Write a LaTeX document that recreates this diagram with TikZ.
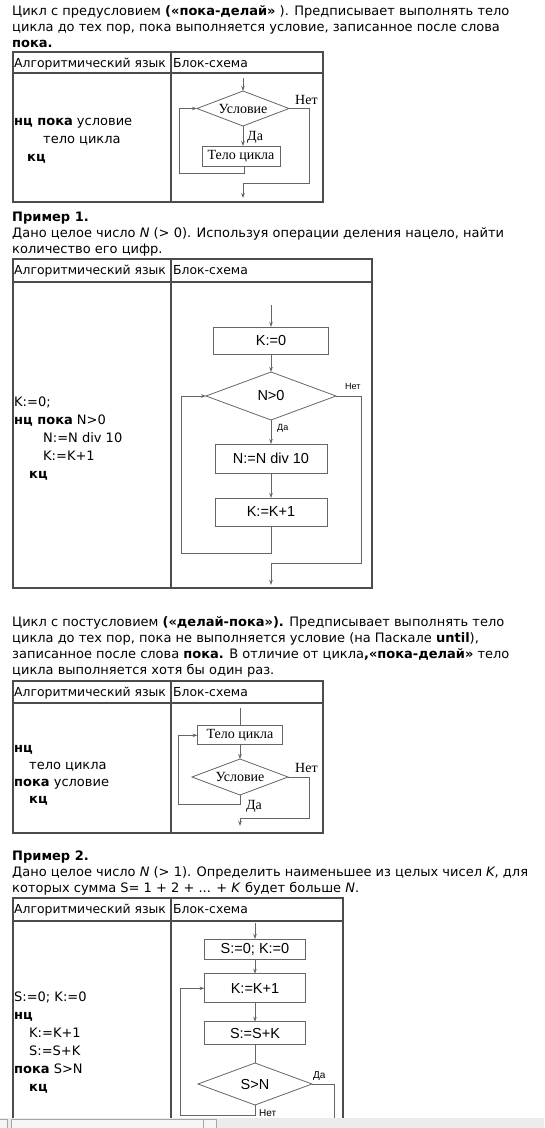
\documentclass[tikz,border=0pt]{standalone}
\usepackage{fontspec}
\setmainfont{DejaVu Sans}
\newfontfamily\serifA{Liberation Serif}
\newfontfamily\arialA{Liberation Sans}
\usetikzlibrary{arrows.meta,shapes.geometric}
\begin{document}
\begin{tikzpicture}[x=1pt,y=-1pt,
 txt/.style={anchor=base west,inner sep=0pt,font=\fontsize{13}{16}\selectfont},
 hdr/.style={anchor=base west,inner sep=0pt,font=\fontsize{12.4}{16}\selectfont},
 tb/.style={draw=black!70,line width=1.5pt},
 fl/.style={draw=black!60,line width=0.8pt},
 arr/.style={fl,-{Stealth[length=5pt,width=3.5pt]}},
 sbox/.style={draw=black!60,line width=0.8pt,rectangle,inner sep=0pt,outer sep=0pt,font=\serifA\fontsize{14}{14}\selectfont},
 sdia/.style={draw=black!60,line width=0.8pt,diamond,shape aspect=2.65,inner sep=0pt,outer sep=0pt,font=\serifA\fontsize{14}{14}\selectfont},
 slab/.style={anchor=base west,inner sep=0pt,font=\serifA\fontsize{14}{14}\selectfont},
 abox/.style={draw=black!60,line width=0.8pt,rectangle,inner sep=0pt,outer sep=0pt,font=\arialA\fontsize{14.5}{14}\selectfont},
 adia/.style={draw=black!60,line width=0.8pt,diamond,shape aspect=2.7,inner sep=0pt,outer sep=0pt,font=\arialA\fontsize{14.5}{14}\selectfont},
 alab/.style={anchor=base west,inner sep=0pt,font=\arialA\fontsize{9}{9}\selectfont},
 blab/.style={anchor=base west,inner sep=0pt,font=\arialA\fontsize{10}{10}\selectfont},
]
\useasboundingbox (0,0) rectangle (544,1128);
\fill[white] (0,0) rectangle (544,1128);

% ---------- paragraph 1
\node[txt] (p1a) at (12,15) {Цикл с предусловием \textbf{(«пока-делай»} ). Предписывает выполнять тело};
\node[txt] (p1b) at (12,31) {цикла до тех пор, пока выполняется условие, записанное после слова};
\node[txt] (p1c) at (12,47) {\textbf{пока.}};

% ---------- table 1
\draw[tb] (13,52) rectangle (323,202);
\draw[tb] (13,73) -- (323,73);
\draw[tb] (171,52) -- (171,202);
\node[hdr] (h1a) at (14,67.5) {Алгоритмический язык};
\node[hdr] (h1b) at (173,67.5) {Блок-схема};
\node[txt] (l1a) at (14,125) {\textbf{нц пока} условие};
\node[txt] (l1b) at (43,143) {тело цикла};
\node[txt] (l1c) at (27,161) {\textbf{кц}};

\coordinate (e1) at (243,78);
\node[sdia,minimum width=92pt,minimum height=35pt] (d1) at (243,108.5) {Условие};
\node[sbox,minimum width=78pt,minimum height=20pt] (b1) at (241,156) {Тело цикла};
\draw[arr] (e1) -- (d1.north);
\draw[arr] (d1.south) -- (d1.south |- b1.north);
\coordinate (c1a) at (309,183);
\coordinate (o1) at (243,198);
\draw[arr] (d1.east) -| (c1a) -| (o1);
\coordinate (c1b) at (179,173);
\draw[arr] ([xshift=3pt]b1.south) |- (c1b) |- (d1.west);
\node[slab] (y1) at (247,140) {Да};
\node[slab] (n1) at (295,104) {Нет};

% ---------- example 1
\node[txt] (p2a) at (12,221) {\textbf{Пример 1.}};
\node[txt] (p2b) at (12,237) {Дано целое число \textit{N} (> 0). Используя операции деления нацело, найти};
\node[txt] (p2c) at (12,253) {количество его цифр.};

% ---------- table 2
\draw[tb] (13,259) rectangle (372,588);
\draw[tb] (13,282) -- (372,282);
\draw[tb] (171,259) -- (171,588);
\node[hdr] (h2a) at (14,274.5) {Алгоритмический язык};
\node[hdr] (h2b) at (173,274.5) {Блок-схема};
\node[txt] (l2a) at (14,406) {K:=0;};
\node[txt] (l2b) at (14,424) {\textbf{нц пока} N>0};
\node[txt] (l2c) at (43,442) {N:=N div 10};
\node[txt] (l2d) at (43,460) {K:=K+1};
\node[txt] (l2e) at (29,478) {\textbf{кц}};

\coordinate (e2) at (271,305);
\node[abox,minimum width=115pt,minimum height=27pt] (k0) at (271,340.5) {K:=0};
\node[adia,minimum width=130pt,minimum height=48pt] (d2) at (271,396) {N>0};
\node[abox,minimum width=112pt,minimum height=29pt] (nd) at (271,458.5) {N:=N div 10};
\node[abox,minimum width=112pt,minimum height=28pt] (kk) at (271,512) {K:=K+1};
\draw[arr] (e2) -- (k0.north);
\draw[arr] (k0.south) -- (d2.north);
\draw[arr] (d2.south) -- (nd.north);
\draw[arr] (nd.south) -- (kk.north);
\coordinate (c2a) at (361.5,563);
\coordinate (o2) at (271,585);
\draw[arr] (d2.east) -| (c2a) -| (o2);
\coordinate (c2b) at (181.5,553);
\draw[arr] (kk.south) |- (c2b) |- (d2.west);
\node[alab] (y2) at (277,430) {Да};
\node[alab] (n2) at (345,389.5) {Нет};

% ---------- paragraph 3
\node[txt] (p3a) at (12,626) {Цикл с постусловием \textbf{(«делай-пока»).} Предписывает выполнять тело};
\node[txt] (p3b) at (12,642) {цикла до тех пор, пока не выполняется условие (на Паскале \textbf{until}),};
\node[txt] (p3c) at (12,658) {записанное после слова \textbf{пока.} В отличие от цикла\textbf{,«пока-делай»} тело};
\node[txt] (p3d) at (12,674) {цикла выполняется хотя бы один раз.};

% ---------- table 3
\draw[tb] (13,681) rectangle (323,833);
\draw[tb] (13,703) -- (323,703);
\draw[tb] (171,681) -- (171,833);
\node[hdr] (h3a) at (14,696.5) {Алгоритмический язык};
\node[hdr] (h3b) at (173,696.5) {Блок-схема};
\node[txt] (l3a) at (14,752) {\textbf{нц}};
\node[txt] (l3b) at (29,769) {тело цикла};
\node[txt] (l3c) at (14,786) {\textbf{пока} условие};
\node[txt] (l3d) at (29,803) {\textbf{кц}};

\coordinate (e3) at (240,708);
\node[sbox,minimum width=85pt,minimum height=19pt] (b3) at (240,735.3) {Тело цикла};
\node[sdia,minimum width=96pt,minimum height=36pt] (d3) at (240,777) {Условие};
\draw[fl] (e3) -- (b3.north);
\draw[arr] (b3.south) -- (d3.north);
\coordinate (c3a) at (309,818);
\coordinate (o3) at (240,826);
\draw[arr] (d3.east) -| (c3a) -| (o3);
\coordinate (c3b) at (178,804);
\draw[arr] (d3.south) |- (c3b) |- (b3.west);
\node[slab] (n3) at (295,772) {Нет};
\node[slab] (y3) at (246,809) {Да};

% ---------- example 2
\node[txt] (p4a) at (12,860) {\textbf{Пример 2.}};
\node[txt] (p4b) at (12,876) {Дано целое число \textit{N} (> 1). Определить наименьшее из целых чисел \textit{K}, для};
\node[txt] (p4c) at (12,892) {которых сумма S= 1 + 2 + ... + \textit{K} будет больше \textit{N}.};

% ---------- table 4
\draw[tb] (13,1118) -- (13,898) -- (343,898) -- (343,1118);
\draw[tb] (13,921) -- (343,921);
\draw[tb] (171,898) -- (171,1118);
\node[hdr] (h4a) at (14,913.5) {Алгоритмический язык};
\node[hdr] (h4b) at (173,913.5) {Блок-схема};
\node[txt] (l4a) at (14,1001) {S:=0; K:=0};
\node[txt] (l4b) at (14,1019) {\textbf{нц}};
\node[txt] (l4c) at (29,1037) {K:=K+1};
\node[txt] (l4d) at (29,1055) {S:=S+K};
\node[txt] (l4e) at (14,1073) {\textbf{пока} S>N};
\node[txt] (l4f) at (29,1091) {\textbf{кц}};

\coordinate (e4) at (255,923);
\node[abox,minimum width=101pt,minimum height=20pt] (s0) at (255,949) {S:=0; K:=0};
\node[abox,minimum width=101pt,minimum height=29pt] (kb) at (255,988.3) {K:=K+1};
\node[abox,minimum width=101pt,minimum height=23pt] (sb) at (255,1033.3) {S:=S+K};
\node[adia,minimum width=114pt,minimum height=42pt] (d4) at (255,1084) {S>N};
\draw[arr] (e4) -- (s0.north);
\draw[arr] (s0.south) -- (kb.north);
\draw[arr] (kb.south) -- (sb.north);
\draw[fl] (sb.south) -- (d4.north);
\coordinate (c4a) at (334,1120);
\draw[fl] (d4.east) -| (c4a);
\coordinate (c4b) at (180.7,1115);
\draw[arr] (d4.south) |- (c4b) |- (kb.west);
\node[blab] (y4) at (313,1078) {Да};
\node[blab] (n4) at (259,1116.5) {Нет};

% ---------- scrollbar
\fill[black!8] (0,1118) rectangle (544,1128);
\draw[black!35,line width=0.6pt,fill=black!4] (-1,1119) rectangle (7,1129);
\draw[black!35,line width=0.6pt,fill=black!4] (11,1119) rectangle (216,1129);
\draw[black!35,line width=0.6pt] (203,1119) -- (203,1128);
\end{tikzpicture}
\end{document}
